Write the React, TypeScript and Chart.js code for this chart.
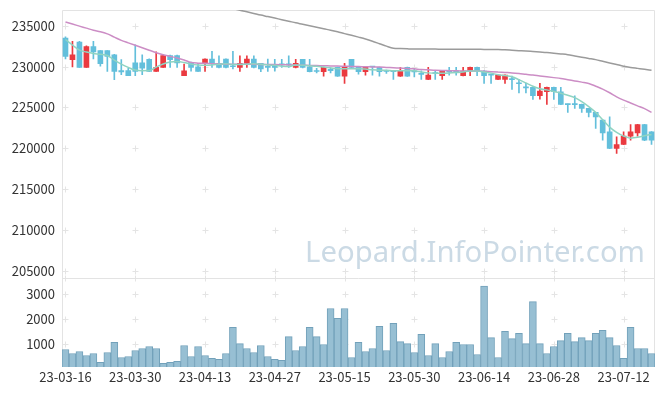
import React, { useEffect, useRef } from 'react';
import { Chart, registerables } from 'chart.js';
Chart.register(...registerables);

const dates = [
  '23-03-16','23-03-17','23-03-20','23-03-21','23-03-22','23-03-23','23-03-24','23-03-27','23-03-28','23-03-29',
  '23-03-30','23-03-31','23-04-03','23-04-04','23-04-05','23-04-06','23-04-07','23-04-10','23-04-11','23-04-12',
  '23-04-13','23-04-14','23-04-17','23-04-18','23-04-19','23-04-20','23-04-21','23-04-24','23-04-25','23-04-26',
  '23-04-27','23-04-28','23-05-02','23-05-03','23-05-04','23-05-08','23-05-09','23-05-10','23-05-11','23-05-12',
  '23-05-15','23-05-16','23-05-17','23-05-18','23-05-19','23-05-22','23-05-23','23-05-24','23-05-25','23-05-26',
  '23-05-30','23-05-31','23-06-01','23-06-02','23-06-05','23-06-07','23-06-08','23-06-09','23-06-12','23-06-13',
  '23-06-14','23-06-15','23-06-16','23-06-19','23-06-20','23-06-21','23-06-22','23-06-23','23-06-26','23-06-27',
  '23-06-28','23-06-29','23-06-30','23-07-03','23-07-04','23-07-05','23-07-06','23-07-07','23-07-10','23-07-11',
  '23-07-12','23-07-13','23-07-14','23-07-17','23-07-18'
];

const openPrices = [
  233500,230850,233000,229900,232450,231950,231950,231450,229500,229500,
  230450,230450,230900,229400,229900,231350,231350,228880,230520,229980,
  230390,230920,230390,230920,230100,229900,230390,230920,230390,229950,
  229950,230300,230300,229900,230880,229980,229450,229370,229650,229900,
  228840,230880,229900,229370,229980,229900,229450,229450,228840,229900,
  229400,229100,228440,229200,228880,229400,229400,228880,229450,229900,
  229450,229000,228440,228440,228450,227950,227450,227450,226430,226920,
  227450,226920,225400,225400,225370,224880,224390,223450,222010,219980,
  220470,221490,221890,222920,222010
];
const highPrices = [
  233650,233100,233100,232550,233100,231950,231950,231500,230850,229800,
  232650,231450,230950,231800,231400,231400,231400,230310,230550,230390,
  230950,231860,231330,230950,231860,231330,231330,231330,230400,230920,
  230900,230900,231330,230900,230900,230880,229780,229950,229780,229950,
  230390,230900,229950,230000,230000,229950,229570,229500,229900,229950,
  229780,229490,229900,229490,229500,229900,229900,229900,229950,229950,
  229500,229000,229000,229000,228840,228430,227940,227500,227940,227500,
  227500,227450,225400,226430,225400,224900,224400,223500,223850,221400,
  222015,222920,222950,222950,222050
];
const lowPrices = [
  230950,229950,229900,229900,230950,230050,229400,228400,229000,228900,
  228900,229000,229400,229400,229900,229900,229900,228880,229450,229410,
  229410,229900,229850,229850,229700,229410,229900,229850,229365,229400,
  229450,229900,229900,229850,229850,229350,229240,228840,229240,228800,
  227940,229850,229080,228960,228960,228840,229170,228430,228800,228800,
  228750,228430,228400,228430,228430,228960,228960,228850,228880,228880,
  227940,227940,228400,227940,227210,226790,226790,225980,226000,225370,
  225980,225350,224390,224880,224390,223850,222430,221000,219950,219370,
  220450,221000,221490,220950,220470
];
const closePrices = [
  231250,231450,229900,232450,231800,230350,231250,229400,229350,228900,
  229400,229800,229400,229900,231350,230850,230450,229490,229900,229410,
  230920,230390,229900,229900,229980,230390,230920,229900,229700,229900,
  229900,230200,230200,230390,229900,229370,229400,229900,229500,228840,
  229900,229900,229370,229980,229950,229370,229400,229370,229490,228840,
  229350,229050,228960,229150,229450,229350,229350,229450,229900,229450,
  228880,228950,228960,228960,228400,227900,227400,226430,227000,227450,
  226920,225370,225350,225350,224880,224390,223850,221890,219980,220470,
  221490,222010,222920,221000,221000
];
const volumes = [
  780,620,700,540,620,260,660,1065,460,500,
  740,820,900,820,220,260,300,940,500,900,
  540,420,380,620,1670,1020,820,660,940,500,
  380,340,1300,740,900,1670,1300,980,2430,2030,
  2430,460,1065,700,820,1710,740,1830,1100,1020,
  660,1390,540,1020,460,700,1065,980,980,580,
  3330,1260,460,1510,1220,1430,1020,2710,1020,620,
  900,1140,1430,1100,1260,1140,1430,1550,1260,940,
  420,1670,820,820,620
];
const maShort = [
  233310,232640,232020,231780,231600,231500,231350,230800,230310,229900,
  229570,229490,229510,229940,230310,230550,230610,230500,230300,230200,
  230150,230200,230300,230350,230250,230250,230300,230350,230300,230200,
  230150,230050,230000,230200,230150,230100,230050,229950,229850,229750,
  229750,229750,229750,229700,229600,229550,229550,229500,229500,229500,
  229480,229350,229230,229170,229180,229220,229280,229350,229450,229450,
  229350,229200,229000,228900,228750,228400,228000,227600,227300,227150,
  226950,226750,226500,226200,225700,225100,224400,223500,222600,221950,
  221500,221250,221350,221550,221700
];
const maMid = [
  235450,235200,234950,234700,234450,234270,234000,233600,233200,232900,
  232600,232300,232000,231700,231450,231250,231050,230800,230500,230420,
  230400,230350,230320,230300,230300,230300,230280,230270,230260,230250,
  230240,230220,230200,230180,230160,230140,230120,230100,230080,230060,
  230040,230020,230000,229980,229960,229940,229900,229860,229820,229780,
  229720,229650,229600,229550,229520,229500,229480,229470,229460,229450,
  229430,229380,229330,229280,229230,229150,229050,228960,228850,228750,
  228650,228550,228400,228250,228100,227940,227600,227250,226800,226300,
  225900,225550,225200,224850,224400
];
const maLong = [
  null,null,null,null,null,null,null,null,null,null,
  null,null,null,null,null,null,null,null,null,null,
  null,null,null,237250,237080,236900,236700,236500,236300,236120,
  235930,235740,235550,235350,235180,235000,234820,234630,234450,234250,
  234030,233820,233600,233370,233100,232800,232500,232250,232200,232170,
  232150,232150,232140,232140,232130,232130,232120,232120,232110,232110,
  232100,232100,232080,232050,232000,231950,231900,231840,231780,231720,
  231640,231550,231450,231300,231150,231000,230850,230650,230450,230250,
  230050,229900,229780,229660,229550
];
const priceTicks = [205000, 210000, 215000, 220000, 225000, 230000, 235000];
const volumeTicks = [1000, 2000, 3000];
const watermark = 'Leopard.InfoPointer.com';

const UP = '#ea3a40';
const DOWN = '#63bfdb';
const FONT = '"Noto Sans CJK KR", "Noto Sans", sans-serif';

const framePlugin = {
  id: 'frame',
  beforeDatasetsDraw(chart: any) {
    const ctx = chart.ctx;
    const xs = chart.scales.x;
    const yp = chart.scales.y;
    const yv = chart.scales.yv;
    const { left, right, top, bottom } = chart.chartArea;
    ctx.save();
    // watermark
    let size = 30;
    ctx.font = `${size}px "Noto Sans"`;
    const w = ctx.measureText(watermark).width;
    size = size * 340 / w;
    ctx.font = `${size}px "Noto Sans"`;
    ctx.fillStyle = '#cbdae5';
    ctx.textAlign = 'right';
    ctx.textBaseline = 'alphabetic';
    ctx.fillText(watermark, right - 10, yp.bottom - 16);
    // crosses
    ctx.strokeStyle = '#e4e4e4';
    ctx.lineWidth = 1;
    const xPos: number[] = [];
    for (let i = 0; i < dates.length; i += 10) xPos.push(Math.round(xs.getPixelForValue(i)) + 0.5);
    const yPos: number[] = [];
    yp.ticks.forEach((t: any) => yPos.push(Math.round(yp.getPixelForValue(t.value)) + 0.5));
    yv.ticks.forEach((t: any) => yPos.push(Math.round(yv.getPixelForValue(t.value)) + 0.5));
    yPos.push(Math.round(yp.bottom) + 0.5);
    ctx.beginPath();
    xPos.forEach((x) => {
      yPos.forEach((y) => {
        ctx.moveTo(x - 3, y); ctx.lineTo(x + 3, y);
        ctx.moveTo(x, y - 3); ctx.lineTo(x, y + 3);
      });
    });
    ctx.stroke();
    // frame
    ctx.strokeStyle = '#e3e3e3';
    ctx.beginPath();
    const L = Math.round(left) + 0.5, R = Math.round(right) - 0.5;
    const T = Math.round(top) + 0.5, B = Math.round(bottom) - 0.5;
    const S = Math.round(yp.bottom) + 0.5;
    ctx.moveTo(L, T); ctx.lineTo(R, T); ctx.lineTo(R, B); ctx.lineTo(L, B); ctx.closePath();
    ctx.moveTo(L, S); ctx.lineTo(R, S);
    ctx.stroke();
    ctx.restore();
  },
};

const fitY = (s: any) => {
  s.width = 62;
  s.paddingTop = 0;
  s.paddingBottom = 0;
};

export default function App() {
  const ref = useRef<HTMLCanvasElement>(null);
  useEffect(() => {
    document.body.style.margin = '0';
    const bodyColors = openPrices.map((o, i) => (closePrices[i] >= o ? UP : DOWN));
    const chart = new Chart(ref.current as HTMLCanvasElement, {
      type: 'bar',
      data: {
        labels: dates,
        datasets: [
          {
            type: 'line', label: 'MA5', data: maShort, yAxisID: 'y',
            borderColor: '#8fd4c2', borderWidth: 1.5, pointRadius: 0, cubicInterpolationMode: 'monotone',
          },
          {
            type: 'line', label: 'MA20', data: maMid, yAxisID: 'y',
            borderColor: '#cc8dc5', borderWidth: 1.5, pointRadius: 0, cubicInterpolationMode: 'monotone',
          },
          {
            type: 'line', label: 'MA60', data: maLong, yAxisID: 'y',
            borderColor: '#9b9b9b', borderWidth: 1.5, pointRadius: 0, cubicInterpolationMode: 'monotone',
          },
          {
            type: 'bar', label: 'body', yAxisID: 'y', grouped: false,
            data: openPrices.map((o, i) => [Math.min(o, closePrices[i]), Math.max(o, closePrices[i])]),
            backgroundColor: bodyColors, barThickness: 5, minBarLength: 1, borderWidth: 0,
          },
          {
            type: 'bar', label: 'wick', yAxisID: 'y', grouped: false,
            data: lowPrices.map((l, i) => [l, highPrices[i]]),
            backgroundColor: bodyColors, barThickness: 1, minBarLength: 1, borderWidth: 0,
          },
          {
            type: 'bar', label: 'volume', yAxisID: 'yv', grouped: false,
            data: volumes,
            backgroundColor: '#97bfd3', borderColor: '#72a1ba', borderWidth: 1,
            categoryPercentage: 1, barPercentage: 1,
          },
        ] as any,
      },
      options: {
        animation: false,
        responsive: false,
        devicePixelRatio: 1,
        layout: { padding: { left: 0, right: 10, top: 10, bottom: 0 } },
        plugins: { legend: { display: false }, tooltip: { enabled: false } },
        scales: {
          x: {
            type: 'category', offset: true,
            grid: { display: false, drawTicks: false }, border: { display: false },
            ticks: {
              autoSkip: false, maxRotation: 0, padding: 2,
              font: { family: FONT, size: 13 }, color: '#333',
              callback: (_v: any, i: number) => (i % 10 === 0 ? dates[i] : null),
            },
            afterFit: (s: any) => { s.height = 29; },
          },
          yv: {
            type: 'linear', position: 'left', stack: 'main', stackWeight: 88.7,
            min: 76, max: 3646,
            grid: { display: false, drawTicks: false }, border: { display: false },
            ticks: { padding: 7, font: { family: FONT, size: 13 }, color: '#333', callback: (v: any) => String(v) },
            afterBuildTicks: (s: any) => { s.ticks = volumeTicks.map((v) => ({ value: v })); },
            afterFit: fitY,
          },
          y: {
            type: 'linear', position: 'left', stack: 'main', stackWeight: 268.3,
            min: 204107, max: 236920,
            grid: { display: false, drawTicks: false }, border: { display: false },
            ticks: { padding: 7, font: { family: FONT, size: 13 }, color: '#333', callback: (v: any) => String(v) },
            afterBuildTicks: (s: any) => { s.ticks = priceTicks.map((v) => ({ value: v })); },
            afterFit: fitY,
          },
        } as any,
      },
      plugins: [framePlugin],
    });
    return () => chart.destroy();
  }, []);
  return (
    <div style={{ width: 665, height: 396 }}>
      <canvas ref={ref} width={665} height={396} style={{ display: 'block' }} />
    </div>
  );
}
